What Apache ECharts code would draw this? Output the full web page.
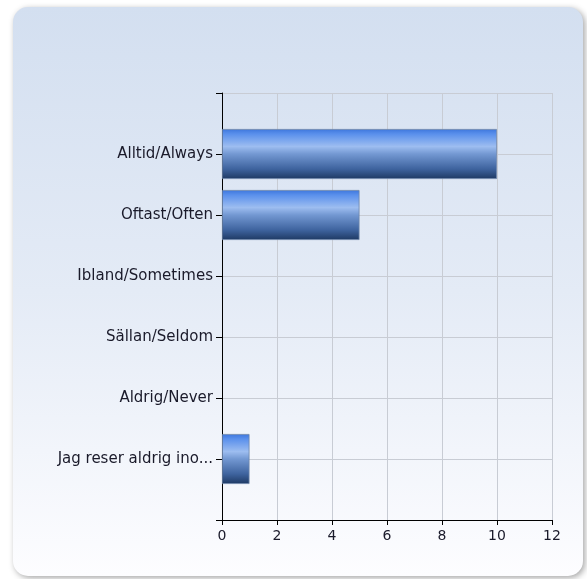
<!DOCTYPE html>
<html>
<head>
<meta charset="utf-8">
<script src="https://cdn.jsdelivr.net/npm/echarts@6/dist/echarts.min.js"></script>
<style>
html,body{margin:0;padding:0;background:#ffffff;}
#chart{width:587px;height:579px;}
</style>
</head>
<body>
<div id="chart"></div>
<script>
const categories = ['Alltid/Always', 'Oftast/Often', 'Ibland/Sometimes', 'Sällan/Seldom', 'Aldrig/Never', 'Jag reser aldrig ino...'];
const values = [10, 5, 0, 0, 0, 1];
const xTicks = { min: 0, max: 12, interval: 2 };

const catData = [''].concat(categories).concat(['']);
const barData = [null].concat(values.map(v => v === 0 ? null : v)).concat([null]);

const chart = echarts.init(document.getElementById('chart'), null, { renderer: 'canvas' });
const font = '"DejaVu Sans"';
chart.setOption({
  animation: false,
  backgroundColor: '#ffffff',
  graphic: [{
    type: 'rect',
    z: -10,
    shape: { x: 13, y: 7, width: 570, height: 569, r: 15 },
    style: {
      fill: new echarts.graphic.LinearGradient(0, 0, 0, 1, [
        { offset: 0, color: '#d3dff0' },
        { offset: 0.5, color: '#e4ebf6' },
        { offset: 1, color: '#fdfdff' }
      ]),
      shadowBlur: 6,
      shadowOffsetX: 2,
      shadowOffsetY: 2,
      shadowColor: 'rgba(0,0,0,0.35)'
    },
    silent: true
  }],
  grid: { left: 222, right: 35, top: 93, bottom: 59, containLabel: false },
  xAxis: {
    type: 'value',
    min: xTicks.min, max: xTicks.max, interval: xTicks.interval,
    axisLine: { show: true, lineStyle: { color: '#000', width: 1 } },
    axisTick: { show: true, length: 5, lineStyle: { color: '#000' } },
    axisLabel: { color: '#1a1a2a', fontFamily: font, fontSize: 14, margin: 9 },
    splitLine: { show: true, lineStyle: { color: '#c8ccd4', width: 1 } }
  },
  yAxis: {
    type: 'category',
    data: catData,
    inverse: true,
    boundaryGap: false,
    axisLine: { show: true, lineStyle: { color: '#000', width: 1 } },
    axisTick: { show: true, length: 6, lineStyle: { color: '#000' } },
    axisLabel: { color: '#1a1a2a', fontFamily: font, fontSize: 15, margin: 9, interval: 0 },
    splitLine: { show: true, lineStyle: { color: '#c8ccd4', width: 1 } }
  },
  series: [{
    type: 'bar',
    data: barData,
    barWidth: 50,
    itemStyle: {
      color: new echarts.graphic.LinearGradient(0, 0, 0, 1, [
        { offset: 0, color: '#3d76dc' },
        { offset: 0.1, color: '#5a90ec' },
        { offset: 0.35, color: '#9dbdf0' },
        { offset: 0.5, color: '#7398d2' },
        { offset: 0.8, color: '#3e639e' },
        { offset: 1, color: '#1e3963' }
      ]),
      borderColor: '#6f86aa',
      borderWidth: 0.8
    }
  }]
});
</script>
</body>
</html>
